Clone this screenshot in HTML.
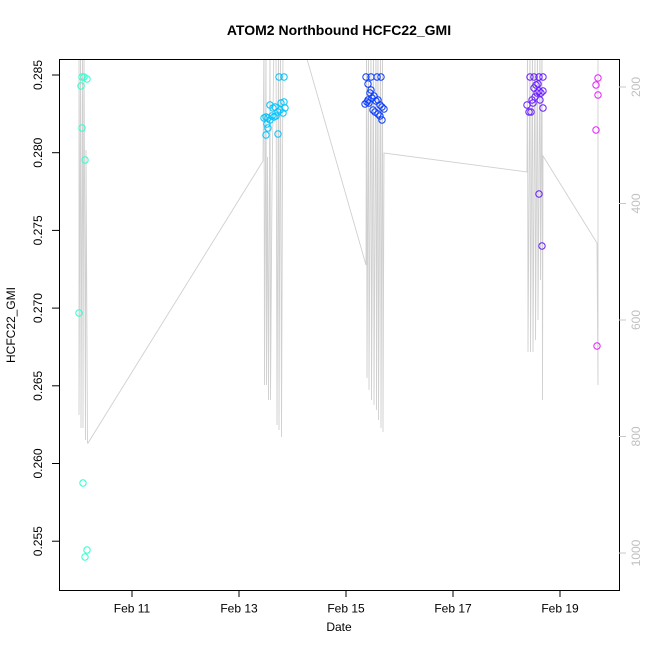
<!DOCTYPE html>
<html><head><style>body{margin:0;background:#fff}svg{display:block}text{font-family:"Liberation Sans",sans-serif}</style></head>
<body>
<svg width="650" height="650" viewBox="0 0 650 650" xmlns="http://www.w3.org/2000/svg">
<rect width="650" height="650" fill="#fff"/>
<text x="339" y="35" font-size="14" font-weight="bold" text-anchor="middle">ATOM2 Northbound HCFC22_GMI</text>
<text x="339" y="631" font-size="12" text-anchor="middle">Date</text>
<text transform="translate(15,325) rotate(-90)" font-size="12" text-anchor="middle">HCFC22_GMI</text>
<defs><clipPath id="c"><rect x="59" y="59" width="560" height="531"/></clipPath></defs>
<g clip-path="url(#c)" fill="none" stroke="#d0d0d0" stroke-width="0.9">
<polyline points="79,40 79,415 80.5,40 81,428 82.5,40 83,428 84,40 85.5,440 86,150 87.5,443 88,443 263,161 264,40 264.5,385 266,40 266.5,385 267.5,157 268.5,400 270,40 270.5,400 272,185 274,40 276,40 277,425 278.5,40 279,430 280.5,40 281.5,437 283,40 285,40 307,59 366,265 366.5,40 367,378 368.5,40 369,390 371,40 371.5,400 373.5,40 374,405 376,40 376.5,410 378,40 378.5,420 380.5,40 381,428 382.5,40 383,432 384,153 527,172 527.5,40 528,352 530,40 530.5,352 532.5,40 533,352 535,40 535.5,340 537.5,40 538,320 540,40 540.5,280 542,40 542.5,400 543,156 597,243 598,385 598,40"/>
</g>
<g fill="none" stroke-width="1">
<g stroke="#2effcc">
<circle cx="82" cy="77" r="3.2"/><circle cx="84" cy="77" r="3.2"/><circle cx="87" cy="79" r="3.2"/><circle cx="81" cy="86" r="3.2"/><circle cx="82" cy="128" r="3.2"/><circle cx="85" cy="160" r="3.2"/><circle cx="79" cy="313" r="3.2"/><circle cx="83" cy="483" r="3.2"/><circle cx="87" cy="550" r="3.2"/><circle cx="85" cy="557" r="3.2"/>
</g>
<g stroke="#00c4ff">
<circle cx="279" cy="77" r="3.2"/><circle cx="284" cy="77" r="3.2"/><circle cx="270" cy="105" r="3.2"/><circle cx="275" cy="107" r="3.2"/><circle cx="281" cy="103" r="3.2"/><circle cx="284" cy="102" r="3.2"/><circle cx="264" cy="118" r="3.2"/><circle cx="266" cy="117" r="3.2"/><circle cx="268" cy="118" r="3.2"/><circle cx="270" cy="120" r="3.2"/><circle cx="272" cy="116" r="3.2"/><circle cx="274" cy="117" r="3.2"/><circle cx="276" cy="116" r="3.2"/><circle cx="278" cy="112" r="3.2"/><circle cx="280" cy="110" r="3.2"/><circle cx="283" cy="113" r="3.2"/><circle cx="285" cy="108" r="3.2"/><circle cx="267" cy="124" r="3.2"/><circle cx="268" cy="128" r="3.2"/><circle cx="266" cy="135" r="3.2"/><circle cx="278" cy="134" r="3.2"/><circle cx="273" cy="108" r="3.2"/>
</g>
<g stroke="#0a3cff">
<circle cx="366" cy="77" r="3.2"/><circle cx="371" cy="77" r="3.2"/><circle cx="377" cy="77" r="3.2"/><circle cx="381" cy="77" r="3.2"/><circle cx="368" cy="84" r="3.2"/><circle cx="370" cy="93" r="3.2"/><circle cx="372" cy="98" r="3.2"/><circle cx="367" cy="102" r="3.2"/><circle cx="369" cy="103" r="3.2"/><circle cx="374" cy="96" r="3.2"/><circle cx="376" cy="101" r="3.2"/><circle cx="378" cy="100" r="3.2"/><circle cx="380" cy="105" r="3.2"/><circle cx="382" cy="107" r="3.2"/><circle cx="384" cy="109" r="3.2"/><circle cx="373" cy="110" r="3.2"/><circle cx="375" cy="112" r="3.2"/><circle cx="378" cy="114" r="3.2"/><circle cx="380" cy="116" r="3.2"/><circle cx="382" cy="120" r="3.2"/><circle cx="371" cy="90" r="3.2"/><circle cx="368" cy="100" r="3.2"/><circle cx="365" cy="104" r="3.2"/>
</g>
<g stroke="#6a1eff">
<circle cx="530" cy="77" r="3.2"/><circle cx="534" cy="77" r="3.2"/><circle cx="539" cy="77" r="3.2"/><circle cx="543" cy="77" r="3.2"/><circle cx="527" cy="105" r="3.2"/><circle cx="529" cy="112" r="3.2"/><circle cx="531" cy="112" r="3.2"/><circle cx="533" cy="103" r="3.2"/><circle cx="535" cy="97" r="3.2"/><circle cx="537" cy="93" r="3.2"/><circle cx="539" cy="91" r="3.2"/><circle cx="541" cy="93" r="3.2"/><circle cx="543" cy="91" r="3.2"/><circle cx="532" cy="100" r="3.2"/><circle cx="536" cy="85" r="3.2"/><circle cx="538" cy="84" r="3.2"/><circle cx="534" cy="88" r="3.2"/><circle cx="540" cy="100" r="3.2"/><circle cx="543" cy="108" r="3.2"/><circle cx="539" cy="194" r="3.2"/><circle cx="542" cy="246" r="3.2"/>
</g>
<g stroke="#e81eff">
<circle cx="596" cy="85" r="3.2"/><circle cx="598" cy="78" r="3.2"/><circle cx="598" cy="95" r="3.2"/><circle cx="596" cy="130" r="3.2"/><circle cx="597" cy="346" r="3.2"/>
</g>
</g>
<rect x="59.5" y="59.5" width="560" height="531" fill="none" stroke="#000"/>
<g stroke="#000">
<line x1="59" y1="75" x2="52" y2="75"/><line x1="59" y1="152.7" x2="52" y2="152.7"/><line x1="59" y1="230.4" x2="52" y2="230.4"/><line x1="59" y1="308.1" x2="52" y2="308.1"/><line x1="59" y1="385.8" x2="52" y2="385.8"/><line x1="59" y1="463.5" x2="52" y2="463.5"/><line x1="59" y1="541.2" x2="52" y2="541.2"/>
<line x1="132" y1="590" x2="132" y2="597"/><line x1="239" y1="590" x2="239" y2="597"/><line x1="346" y1="590" x2="346" y2="597"/><line x1="453" y1="590" x2="453" y2="597"/><line x1="560" y1="590" x2="560" y2="597"/>
</g>
<g font-size="12" text-anchor="middle">
<text transform="translate(42,75) rotate(-90)">0.285</text><text transform="translate(42,152.7) rotate(-90)">0.280</text><text transform="translate(42,230.4) rotate(-90)">0.275</text><text transform="translate(42,308.1) rotate(-90)">0.270</text><text transform="translate(42,385.8) rotate(-90)">0.265</text><text transform="translate(42,463.5) rotate(-90)">0.260</text><text transform="translate(42,541.2) rotate(-90)">0.255</text>
<text x="132" y="603" dy="0.8em">Feb 11</text><text x="239" y="603" dy="0.8em">Feb 13</text><text x="346" y="603" dy="0.8em">Feb 15</text><text x="453" y="603" dy="0.8em">Feb 17</text><text x="560" y="603" dy="0.8em">Feb 19</text>
</g>
<g stroke="#c8c8c8">
<line x1="619" y1="87" x2="626" y2="87"/><line x1="619" y1="203.5" x2="626" y2="203.5"/><line x1="619" y1="320" x2="626" y2="320"/><line x1="619" y1="436.5" x2="626" y2="436.5"/><line x1="619" y1="553" x2="626" y2="553"/>
</g>
<g font-size="12" text-anchor="middle" fill="#c0c0c0">
<text transform="translate(636,87) rotate(-90)" dy="0.35em">200</text><text transform="translate(636,203.5) rotate(-90)" dy="0.35em">400</text><text transform="translate(636,320) rotate(-90)" dy="0.35em">600</text><text transform="translate(636,436.5) rotate(-90)" dy="0.35em">800</text><text transform="translate(636,553) rotate(-90)" dy="0.35em">1000</text>
</g>
</svg>
</body></html>
